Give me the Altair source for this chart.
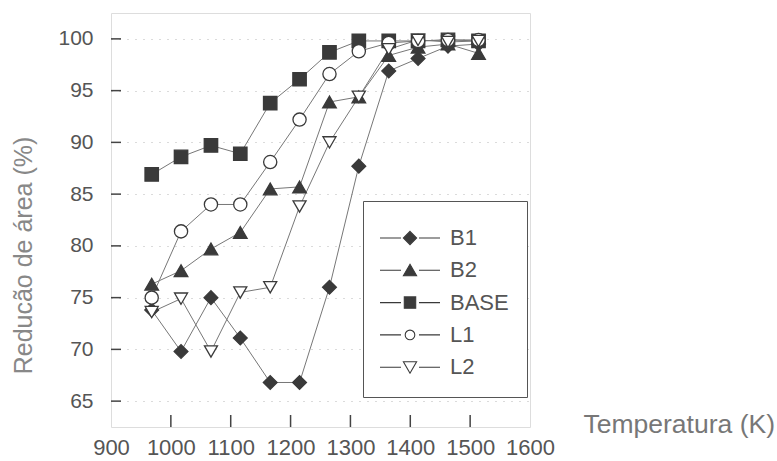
import altair as alt
import pandas as pd

temps = [968, 1017, 1067, 1116, 1166, 1215, 1265, 1314, 1364, 1413, 1463, 1514]
series_names = ["B1", "B2", "BASE", "L1", "L2"]
b1 = [73.8, 69.8, 75.0, 71.1, 66.8, 66.8, 76.0, 87.7, 96.9, 98.1, 99.3, 99.5]
b2 = [76.3, 77.6, 79.7, 81.3, 85.5, 85.7, 93.9, 94.4, 98.4, 99.2, 99.5, 98.6]
base = [86.9, 88.6, 89.7, 88.9, 93.8, 96.1, 98.7, 99.8, 99.8, 99.8, 99.9, 99.8]
l1 = [75.0, 81.4, 84.0, 84.0, 88.1, 92.2, 96.6, 98.8, 99.6, 99.8, 99.9, 99.9]
l2 = [73.6, 74.9, 69.8, 75.5, 76.0, 83.8, 90.0, 94.4, 99.0, 99.9, 99.7, 99.8]
x_ticks = [900, 1000, 1100, 1200, 1300, 1400, 1500, 1600]
y_ticks = [65, 70, 75, 80, 85, 90, 95, 100]

rows = []
for name, vals in zip(series_names, [b1, b2, base, l1, l2]):
    for t, v in zip(temps, vals):
        rows.append({"serie": name, "T": t, "R": v})
df = pd.DataFrame(rows)
xt = pd.DataFrame({"t": x_ticks[1:-1]})
yt = pd.DataFrame({"v": y_ticks})

DARK = "#3a3a3a"
FONT = "Liberation Sans"

xscale = alt.Scale(domain=[900, 1600], nice=False, zero=False)
yscale = alt.Scale(domain=[62.5, 102.5], nice=False, zero=False)

xaxis = alt.Axis(values=x_ticks, format="d", title="Temperatura (K)", labelFontSize=22,
                 labelColor="#555", labelFont=FONT, tickSize=0, domain=False, grid=False,
                 labelPadding=10, labelFlush=False, titleFont=FONT, titleFontSize=26.5,
                 titleFontWeight="normal", titleColor="#777", titleX=472, titleY=5,
                 titleAlign="left", titleBaseline="alphabetic", titleAnchor="start")
yaxis = alt.Axis(values=y_ticks, title="Reducão de área (%)", labelFontSize=21, labelColor="#555",
                 labelFont=FONT, tickSize=0, domain=False, grid=True, gridDash=[1, 7],
                 gridColor="#999", gridOpacity=0.7, labelPadding=18, titleFont=FONT,
                 titleFontSize=25, titleFontWeight="normal", titleColor="#888",
                 titleAngle=-90, titleX=-80, titleY=242, titleAlign="center",
                 titleBaseline="alphabetic")

base_chart = alt.Chart(df)

lines = base_chart.mark_line(color="#777", strokeWidth=1).encode(
    x=alt.X("T:Q", scale=xscale, axis=xaxis),
    y=alt.Y("R:Q", scale=yscale, axis=yaxis),
    detail="serie:N",
    order="T:Q",
)

points = base_chart.mark_point(filled=False, stroke=DARK, strokeWidth=1.3, opacity=1).encode(
    x=alt.X("T:Q", scale=xscale),
    y=alt.Y("R:Q", scale=yscale),
    shape=alt.Shape("serie:N", scale=alt.Scale(domain=series_names,
                    range=["diamond", "triangle-up", "square", "circle", "triangle-down"]), legend=None),
    fill=alt.Fill("serie:N", scale=alt.Scale(domain=series_names,
                  range=[DARK, DARK, DARK, "white", "white"]), legend=None),
    size=alt.Size("serie:N", scale=alt.Scale(domain=series_names,
                  range=[190, 170, 160, 160, 170]), legend=None),
)

leg_paths = [
    "M-5,0H-1.5M1.5,0H5M0,-1.1L1.1,0L0,1.1L-1.1,0Z",
    "M-5,0H-1.5M1.5,0H5M0,-1L1.1,0.9L-1.1,0.9Z",
    "M-5,0H-1.5M1.5,0H5M-0.95,-0.95H0.95V0.95H-0.95Z",
    "M-5,0H-1.5M1.5,0H5M-0.8,0A0.8,0.8 0 1,0 0.8,0A0.8,0.8 0 1,0 -0.8,0Z",
    "M-5,0H-1.5M1.5,0H5M-1.1,-0.9H1.1L0,1Z",
]
leg = alt.Legend(title=" ", titleFontSize=6, titlePadding=2, orient="none", legendX=252,
                 legendY=188, symbolSize=144, symbolStrokeWidth=1.1, symbolOpacity=1,
                 symbolOffset=18, labelFont=FONT, labelFontSize=22, labelColor="#555",
                 labelOffset=29, rowPadding=10.3, padding=18, strokeColor="#555",
                 fillColor="white")
legend_layer = base_chart.mark_point(filled=False, stroke=DARK, strokeWidth=1.1, clip=True,
                                     opacity=1).encode(
    x=alt.X("T:Q", scale=xscale),
    y=alt.value(-500),
    shape=alt.Shape("serie:N", scale=alt.Scale(domain=series_names, range=leg_paths), legend=leg),
    fill=alt.Fill("serie:N", scale=alt.Scale(domain=series_names,
                  range=[DARK, DARK, DARK, "white", "white"]), legend=leg),
)

xtick_layer = alt.Chart(xt).mark_rule(color="#444", strokeWidth=1.5).encode(
    x=alt.X("t:Q", scale=xscale), y=alt.value(414), y2=alt.value(402))
ytick_layer = alt.Chart(yt).mark_rule(color="#444", strokeWidth=1.5).encode(
    y=alt.Y("v:Q", scale=yscale), x=alt.value(0), x2=alt.value(10))

chart = alt.layer(lines, points, legend_layer, xtick_layer, ytick_layer).resolve_scale(
    shape="independent", fill="independent", size="independent"
).properties(
    width=419, height=414,
    autosize=alt.AutoSizeParams(type="none"),
    padding={"left": 111, "top": 13, "right": 247, "bottom": 34},
).configure_view(stroke="#444", strokeWidth=2).configure(background="white")

chart.save("out.html", embed_options={"renderer": "svg", "actions": False})
